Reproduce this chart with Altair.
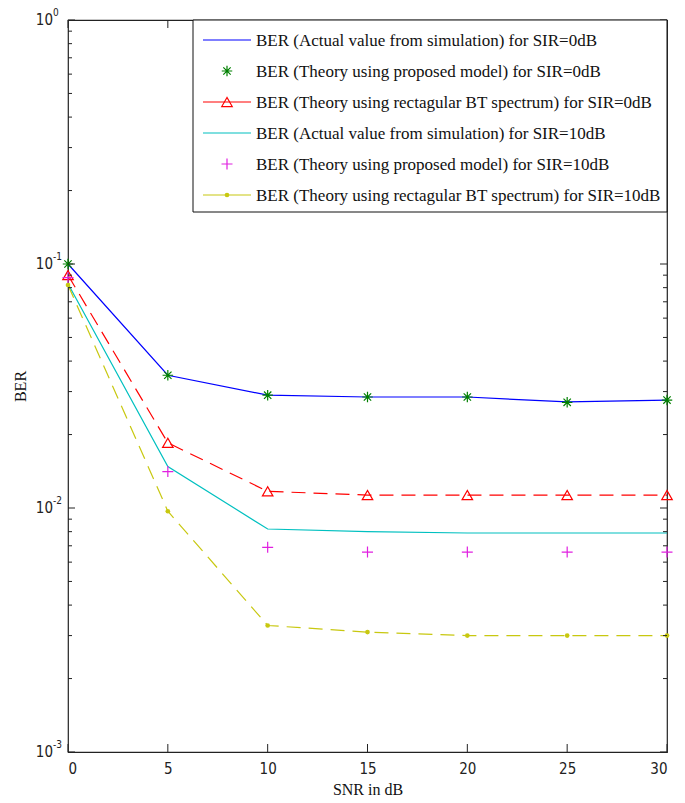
import altair as alt
import pandas as pd

snr = [0, 5, 10, 15, 20, 25, 30]
sim_sir0 = [0.100, 0.035, 0.029, 0.0285, 0.0285, 0.0272, 0.0277]
prop_sir0 = [0.100, 0.035, 0.029, 0.0285, 0.0285, 0.0271, 0.0277]
rect_sir0 = [0.090, 0.0185, 0.0117, 0.0113, 0.0113, 0.0113, 0.0113]
sim_sir10 = [0.083, 0.0148, 0.0082, 0.0080, 0.0079, 0.0079, 0.0079]
prop_sir10 = [0.088, 0.0141, 0.0069, 0.0066, 0.0066, 0.0066, 0.0066]
rect_sir10 = [0.082, 0.0097, 0.0033, 0.0031, 0.0030, 0.0030, 0.0030]

labels = [
    "BER (Actual value from simulation) for SIR=0dB",
    "BER (Theory using proposed model) for SIR=0dB",
    "BER (Theory using rectagular BT spectrum) for SIR=0dB",
    "BER (Actual value from simulation) for SIR=10dB",
    "BER (Theory using proposed model) for SIR=10dB",
    "BER (Theory using rectagular BT spectrum) for SIR=10dB",
]
x_ticks = [0, 5, 10, 15, 20, 25, 30]
y_majors = [1.0, 0.1, 0.01, 0.001]
y_exps = ["0", "-1", "-2", "-3"]

W, H = 599, 732
SERIF = "'Liberation Serif', 'Times New Roman', serif"
SANS = "'Liberation Sans Narrow', 'DejaVu Sans Condensed', 'Liberation Sans', Arial, sans-serif"

STAR = "M-1,0L1,0M0,-1L0,1M-0.7,-0.7L0.7,0.7M-0.7,0.7L0.7,-0.7"
PLUS = "M-1,0L1,0M0,-1L0,1"

styles = [
    dict(color="#0000ff", line=True, dash=None, shape=None),
    dict(color="#008000", line=False, dash=None, shape=STAR, filled=False, size=110),
    dict(color="#ff0000", line=True, dash=[14, 8], shape="triangle-up", filled=False, size=110),
    dict(color="#00c0c0", line=True, dash=None, shape=None),
    dict(color="#e020e0", line=False, dash=None, shape=PLUS, filled=False, size=121),
    dict(color="#c8c810", line=True, dash=[14, 8], shape="circle", filled=True, size=22),
]
series = [sim_sir0, prop_sir0, rect_sir0, sim_sir10, prop_sir10, rect_sir10]

xscale = alt.Scale(domain=[0, 30], nice=False, zero=False)
yscale = alt.Scale(type="log", domain=[0.001, 1], nice=False)

xaxis = alt.Axis(values=x_ticks, ticks=False, domain=False, grid=False,
                 labelFont=SANS, labelFontSize=15, labelColor="#222",
                 labelPadding=9, title="SNR in dB", titleFont=SERIF,
                 titleFontSize=16, titleFontWeight="normal", titleColor="#111",
                 titlePadding=5)
yaxis = alt.Axis(labels=False, ticks=False, domain=False, grid=False,
                 title="BER", titleFont=SERIF, titleFontSize=16,
                 titleFontWeight="normal", titleColor="#111", titlePadding=40)
X = alt.X("snr:Q", scale=xscale, axis=xaxis)
Y = alt.Y("ber:Q", scale=yscale, axis=yaxis)

layers = []
for i, (vals, st) in enumerate(zip(series, styles)):
    df = pd.DataFrame({"snr": snr, "ber": vals})
    base = alt.Chart(df)
    if st["line"]:
        kw = dict(color=st["color"], strokeWidth=1.2, clip=True)
        if st["dash"]:
            kw["strokeDash"] = st["dash"]
        layers.append(base.mark_line(**kw).encode(x=X, y=Y))
    if st["shape"]:
        if st["filled"]:
            m = base.mark_point(shape=st["shape"], filled=True, color=st["color"],
                                size=st["size"], opacity=1)
        else:
            m = base.mark_point(shape=st["shape"], filled=False, color=st["color"],
                                size=st["size"], strokeWidth=1.2, opacity=1)
        layers.append(m.encode(x=X, y=Y))

# minor & major y ticks (both sides), x ticks (top & bottom)
minor_vals = [k * 10 ** d for d in (-3, -2, -1) for k in range(2, 10)]
yt = pd.DataFrame({"ber": y_majors + minor_vals,
                   "len": [7] * len(y_majors) + [4] * len(minor_vals)})
for side in ("left", "right"):
    for ln in (7, 4):
        d = yt[yt["len"] == ln]
        if side == "left":
            enc = dict(x=alt.value(0), x2=alt.value(ln))
        else:
            enc = dict(x=alt.value(W - ln), x2=alt.value(W))
        layers.append(alt.Chart(d).mark_rule(color="#222", strokeWidth=1).encode(y=Y, **enc))

xt = pd.DataFrame({"snr": x_ticks})
layers.append(alt.Chart(xt).mark_rule(color="#222", strokeWidth=1).encode(
    x=X, y=alt.value(H - 8), y2=alt.value(H)))
layers.append(alt.Chart(xt).mark_rule(color="#222", strokeWidth=1).encode(
    x=X, y=alt.value(0), y2=alt.value(8)))

# y tick labels 10^n
yl = pd.DataFrame({"ber": y_majors, "base": ["10"] * 4, "exp": y_exps})
layers.append(alt.Chart(yl).mark_text(align="right", baseline="middle", font=SANS,
                                      fontSize=15, color="#222").encode(
    y=Y, x=alt.value(-15), text="base:N"))
layers.append(alt.Chart(yl).mark_text(align="left", baseline="middle", font=SANS,
                                      fontSize=10, color="#222", dy=-7).encode(
    y=Y, x=alt.value(-15), text="exp:N"))

# legend
LX0, LX1, LY0, LY1 = 125, W, 0, 192
layers.append(alt.Chart(pd.DataFrame({"a": [0]})).mark_rect(
    fill="white", stroke="#111", strokeWidth=1).encode(
    x=alt.value(LX0), x2=alt.value(LX1), y=alt.value(LY0), y2=alt.value(LY1)))
for i, (lab, st) in enumerate(zip(labels, styles)):
    ry = 20 + i * 31
    one = alt.Chart(pd.DataFrame({"t": [lab]}))
    if st["line"]:
        kw = dict(color=st["color"], strokeWidth=1.2)
        layers.append(one.mark_rule(**kw).encode(
            x=alt.value(135), x2=alt.value(183), y=alt.value(ry)))
    if st["shape"]:
        if st["filled"]:
            m = one.mark_point(shape=st["shape"], filled=True, color=st["color"],
                               size=st["size"], opacity=1)
        else:
            m = one.mark_point(shape=st["shape"], filled=False, color=st["color"],
                               size=st["size"], strokeWidth=1.2, opacity=1)
        layers.append(m.encode(x=alt.value(159), y=alt.value(ry)))
    layers.append(one.mark_text(align="left", baseline="middle", font=SERIF,
                                fontSize=17, color="#111").encode(
        x=alt.value(188), y=alt.value(ry + 1), text="t:N"))

chart = alt.layer(*layers).properties(
    width=W, height=H,
    autosize=alt.AutoSizeParams(type="none"),
    padding={"left": 68, "top": 20, "right": 18, "bottom": 51},
    background="white",
).configure_view(stroke="#222", strokeWidth=1.2)

chart.save("out.html", embed_options={"renderer": "svg", "actions": False})
